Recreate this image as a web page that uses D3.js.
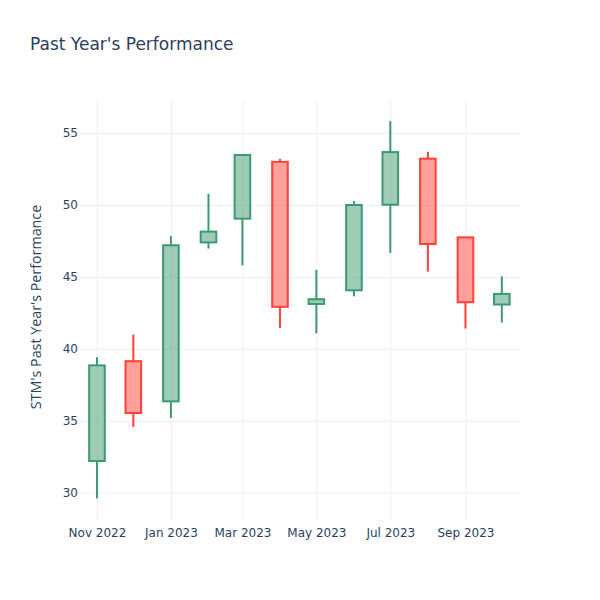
<!DOCTYPE html>
<html>
<head>
<meta charset="utf-8">
<script src="https://cdn.jsdelivr.net/npm/d3@7"></script>
<style>
  body { margin: 0; background: #fff; }
  svg { display: block; }
</style>
</head>
<body>
<svg id="chart" width="600" height="600"></svg>
<script>
const dates = ["2022-11-01","2022-12-01","2023-01-01","2023-02-01","2023-03-01","2023-04-01",
               "2023-05-01","2023-06-01","2023-07-01","2023-08-01","2023-09-01","2023-10-01"];
const openVals  = [32.2, 39.14, 36.35, 47.4, 49.05, 53.0, 43.12, 44.07, 50.02, 53.22, 47.75, 43.08];
const highVals  = [39.42, 40.99, 47.85, 50.78, 53.5, 53.2, 45.49, 50.28, 55.83, 53.7, 47.75, 45.04];
const lowVals   = [29.6, 34.57, 35.2, 46.97, 45.8, 41.45, 41.08, 43.65, 46.67, 45.37, 41.41, 41.83];
const closeVals = [38.85, 35.54, 47.2, 48.15, 53.48, 42.92, 43.45, 50.0, 53.68, 47.29, 43.24, 43.82];
const yTicks = [30, 35, 40, 45, 50, 55];
const xTickDates = ["2022-11-01","2023-01-01","2023-03-01","2023-05-01","2023-07-01","2023-09-01"];

const parse = d3.utcParse("%Y-%m-%d");
const data = dates.map((d, i) => ({
  date: parse(d), open: openVals[i], high: highVals[i], low: lowVals[i], close: closeVals[i]
}));

const margin = {left: 80, right: 80, top: 100, bottom: 80};
const W = 600, H = 600;
const svg = d3.select("#chart");

const x = d3.scaleUtc()
  .domain([parse("2022-10-18"), parse("2023-10-16")])
  .range([margin.left, W - margin.right]);
const y = d3.scaleLinear()
  .domain([28.1, 57.3])
  .range([H - margin.bottom, margin.top]);

const gridColor = "#EBF0F8";
const textColor = "#2a3f5f";
const tickFont = "DejaVu Sans, Verdana, sans-serif";

// horizontal grid + y labels
const yAxis = d3.axisLeft(y).tickValues(yTicks)
  .tickSize(-(W - margin.left - margin.right)).tickPadding(2);
const gy = svg.append("g").attr("transform", `translate(${margin.left},0)`).call(yAxis);
gy.select(".domain").remove();
gy.selectAll(".tick line").attr("stroke", gridColor).attr("stroke-width", 1);
gy.selectAll(".tick text").attr("fill", textColor).attr("font-size", 12)
  .attr("font-family", tickFont).attr("x", -2);

// vertical grid + x labels
const xAxis = d3.axisBottom(x).tickValues(xTickDates.map(parse))
  .tickFormat(d3.utcFormat("%b %Y"))
  .tickSize(-(H - margin.top - margin.bottom)).tickPadding(8);
const gx = svg.append("g").attr("transform", `translate(0,${H - margin.bottom})`).call(xAxis);
gx.select(".domain").remove();
gx.selectAll(".tick line").attr("stroke", gridColor).attr("stroke-width", 1);
gx.selectAll(".tick text").attr("fill", textColor).attr("font-size", 12)
  .attr("font-family", tickFont);

// candles
const inc = "#3D9970", dec = "#FF4136";
const incFill = "rgba(61,153,112,0.5)", decFill = "rgba(255,65,54,0.5)";
const minGapPx = d3.min(data.slice(1), (d, i) => x(d.date) - x(data[i].date));
const bw = minGapPx * 0.46;

const cg = svg.append("g");
data.forEach(d => {
  const up = d.close >= d.open;
  const col = up ? inc : dec;
  const fill = up ? incFill : decFill;
  const cx = x(d.date);
  const top = y(Math.max(d.open, d.close));
  const bot = y(Math.min(d.open, d.close));
  cg.append("line").attr("x1", cx).attr("x2", cx)
    .attr("y1", y(d.high)).attr("y2", top)
    .attr("stroke", col).attr("stroke-width", 2);
  cg.append("line").attr("x1", cx).attr("x2", cx)
    .attr("y1", bot).attr("y2", y(d.low))
    .attr("stroke", col).attr("stroke-width", 2);
  cg.append("rect").attr("x", cx - bw / 2).attr("y", top)
    .attr("width", bw).attr("height", Math.max(bot - top, 0.5))
    .attr("fill", fill).attr("stroke", col).attr("stroke-width", 2);
});

// title
svg.append("text").attr("x", 30).attr("y", 50)
  .attr("font-family", tickFont).attr("font-size", 17)
  .attr("fill", textColor).text("Past Year's Performance");

// y axis title
svg.append("text")
  .attr("transform", `translate(41,${(margin.top + H - margin.bottom) / 2 - 3}) rotate(-90)`)
  .attr("text-anchor", "middle")
  .attr("font-family", "Open Sans, sans-serif").attr("font-size", 14.3)
  .attr("fill", textColor).text("STM's Past Year's Performance");
</script>
</body>
</html>
